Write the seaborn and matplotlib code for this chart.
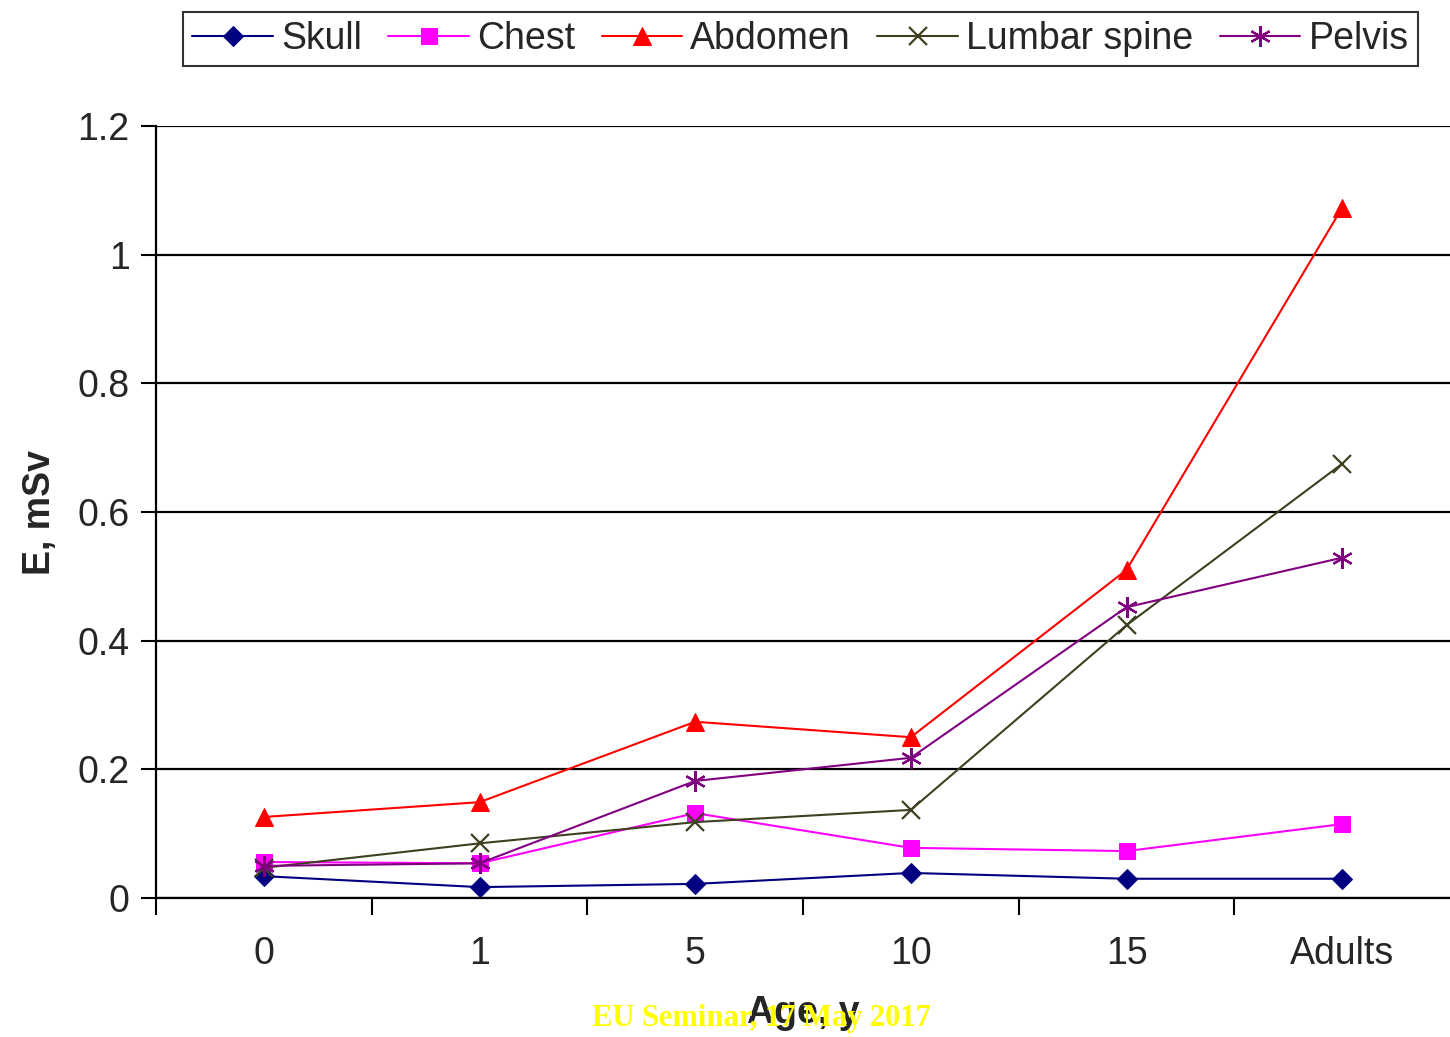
import numpy as np
import pandas as pd
import matplotlib
matplotlib.use("Agg")
import matplotlib.pyplot as plt
import seaborn as sns

# Data
ages = ["0", "1", "5", "10", "15", "Adults"]
skull = [0.034, 0.017, 0.022, 0.039, 0.030, 0.030]
chest = [0.056, 0.054, 0.132, 0.078, 0.073, 0.115]
abdomen = [0.126, 0.149, 0.274, 0.250, 0.510, 1.073]
lumbar_spine = [0.047, 0.085, 0.118, 0.137, 0.424, 0.675]
pelvis = [0.050, 0.054, 0.182, 0.218, 0.452, 0.529]

series = {
    "Skull": skull,
    "Chest": chest,
    "Abdomen": abdomen,
    "Lumbar spine": lumbar_spine,
    "Pelvis": pelvis,
}
styles = {
    "Skull": dict(color="#000080", marker="D", markersize=10),
    "Chest": dict(color="#FF00FF", marker="s", markersize=11),
    "Abdomen": dict(color="#FF0000", marker="^", markersize=13),
    "Lumbar spine": dict(color="#3F3F1F", marker="x", markersize=13, markeredgewidth=1.6),
    "Pelvis": dict(color="#800080", marker=(6, 2, 0), markersize=15, markeredgewidth=1.6),
}

sns.set_style("white")
plt.rcParams["font.family"] = ["Liberation Sans", "DejaVu Sans"]

fig = plt.figure(figsize=(14.5, 10.37), dpi=100)
ax = fig.add_axes([0.1076, 0.134, 0.8924, 0.7445])

for name, vals in series.items():
    df = pd.DataFrame({"Age": ages, "E": vals})
    sns.lineplot(data=df, x="Age", y="E", ax=ax, label=name, linewidth=1.5,
                 markeredgecolor=styles[name]["color"], **styles[name])

ax.set_xlim(-0.5, 5.5)
ax.set_ylim(0, 1.2)
ax.set_yticks([0, 0.2, 0.4, 0.6, 0.8, 1.0, 1.2])
ax.set_yticklabels(["0", "0.2", "0.4", "0.6", "0.8", "1", "1.2"])
ax.yaxis.grid(True, color="black", linewidth=1.6)
ax.set_axisbelow(True)

ax.set_xticks(range(len(ages)))
ax.set_xticklabels(ages)
ax.set_xticks(np.arange(-0.5, 5.5, 1.0), minor=True)
ax.tick_params(axis="x", which="major", length=0, pad=27, labelsize=27)
ax.tick_params(axis="x", which="minor", length=12, width=1.5, color="black", direction="out", bottom=True)
ax.tick_params(axis="y", length=11, width=1.5, color="black", direction="out", left=True, labelsize=27, pad=8)

for s in ["top", "right"]:
    ax.spines[s].set_visible(False)
for s in ["left", "bottom"]:
    ax.spines[s].set_color("black")
    ax.spines[s].set_linewidth(1.6)

ax.set_xlabel("Age, y", fontsize=27, fontweight="bold", labelpad=17)
ax.set_ylabel("E, mSv", fontsize=27, fontweight="bold", labelpad=14)

ax.get_legend().remove()
handles, labels = ax.get_legend_handles_labels()
leg = fig.legend(handles, labels, loc="center", bbox_to_anchor=(0.552, 0.9625), ncol=5,
                 fontsize=27, frameon=True, fancybox=False, edgecolor="black",
                 handlelength=2.15, handletextpad=0.22, columnspacing=0.7,
                 borderpad=0.25, borderaxespad=0)
leg.get_frame().set_linewidth(1.5)

fig.text(0.525, 0.018, "EU Seminar, 17 May 2017", color="#FFFF00", fontsize=22,
         fontweight="bold", family=["Liberation Serif", "DejaVu Serif"], ha="center", va="center")

fig.savefig("out.png", dpi=100)
